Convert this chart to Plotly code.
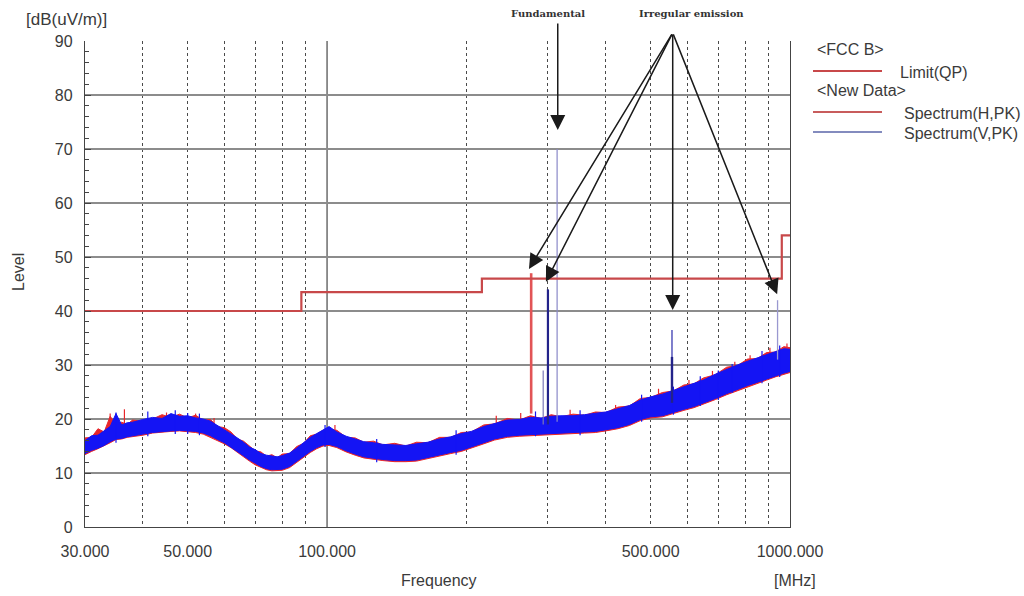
import math
import plotly.graph_objects as go

# ---------------- data ----------------
freq = [30, 31, 32, 33, 34, 35, 36, 37, 38, 40, 42, 44, 46, 48, 50, 52, 54, 56, 58, 60,
        62, 64, 66, 68, 70, 72, 74, 76, 78, 80, 83, 86, 89, 92, 95, 98, 101, 105, 110, 115,
        120, 126, 132, 140, 148, 156, 165, 175, 185, 195, 205, 218, 230, 245, 260, 275, 290, 305, 320, 340,
        360, 380, 400, 425, 450, 475, 500, 530, 560, 590, 620, 650, 690, 730, 770, 810, 850, 890, 930, 970,
        1000]

v_hi = [16.0, 16.9, 17.0, 17.8, 18.6, 21.0, 18.9, 19.3, 19.4, 19.9, 20.3, 20.1, 21.0, 20.5, 20.6, 20.2, 20.0, 19.6, 18.8, 18.1,
        17.3, 16.5, 15.7, 14.8, 14.3, 13.6, 13.3, 13.1, 13.0, 13.2, 13.7, 14.6, 15.7, 16.6, 17.3, 18.0, 18.6, 17.6, 16.8, 16.3,
        15.8, 15.6, 15.3, 15.2, 15.1, 15.4, 15.7, 16.3, 16.7, 17.3, 17.7, 18.6, 19.2, 19.8, 19.9, 20.3, 20.2, 20.5, 20.6, 20.6,
        20.8, 21.0, 21.3, 21.9, 22.5, 23.5, 24.1, 24.6, 25.3, 25.9, 26.6, 27.2, 28.3, 29.2, 30.0, 30.7, 31.3, 31.9, 32.5, 33.0,
        32.9]
v_lo = [13.6, 14.2, 14.6, 15.1, 15.8, 16.3, 16.4, 16.7, 16.9, 17.2, 17.5, 17.7, 17.8, 17.9, 17.8, 17.7, 17.4, 16.9, 16.2, 15.6,
        14.9, 14.0, 13.2, 12.4, 11.8, 11.2, 10.8, 10.6, 10.6, 10.7, 11.2, 12.1, 13.1, 14.0, 14.7, 15.2, 15.3, 14.9, 14.1, 13.5,
        13.0, 12.7, 12.5, 12.3, 12.3, 12.4, 12.8, 13.3, 13.8, 14.2, 14.8, 15.6, 16.3, 16.8, 17.0, 17.2, 17.3, 17.4, 17.5, 17.5,
        17.6, 17.7, 18.0, 18.4, 19.0, 19.9, 20.4, 20.6, 21.2, 21.8, 22.3, 22.9, 23.8, 24.7, 25.5, 26.2, 26.8, 27.4, 28.0, 28.5,
        28.8]
h_hi = [16.5, 16.6, 18.2, 17.6, 20.5, 19.0, 19.4, 19.0, 19.8, 19.6, 20.0, 20.8, 20.3, 20.9, 20.2, 20.7, 19.8, 19.9, 18.6, 18.4,
        17.6, 16.3, 15.9, 15.0, 14.1, 13.9, 13.1, 13.4, 12.8, 13.5, 13.6, 14.9, 15.5, 16.9, 17.2, 17.9, 18.1, 17.9, 16.6, 16.5,
        15.7, 15.9, 15.2, 15.5, 15.0, 15.7, 15.6, 16.6, 16.6, 17.5, 17.6, 18.9, 19.1, 20.1, 19.8, 20.6, 20.1, 20.8, 20.4, 20.9,
        20.7, 21.3, 21.2, 22.2, 22.4, 23.8, 24.0, 24.9, 25.2, 26.3, 26.5, 27.6, 28.2, 29.6, 29.9, 31.1, 31.2, 32.3, 32.4, 33.4,
        33.2]
h_lo = [13.4, 14.0, 14.5, 15.0, 15.6, 16.2, 16.3, 16.6, 16.8, 17.0, 17.4, 17.6, 17.7, 17.8, 17.6, 17.5, 17.2, 16.7, 16.0, 15.4,
        14.7, 13.8, 13.0, 12.2, 11.5, 11.0, 10.6, 10.4, 10.5, 10.5, 11.0, 11.9, 12.9, 13.8, 14.5, 15.0, 15.1, 14.7, 13.9, 13.3,
        12.8, 12.5, 12.3, 12.1, 12.1, 12.2, 12.6, 13.1, 13.6, 14.0, 14.6, 15.4, 16.1, 16.6, 16.8, 17.0, 17.1, 17.2, 17.3, 17.3,
        17.4, 17.5, 17.8, 18.2, 18.8, 19.7, 20.2, 20.4, 21.0, 21.6, 22.1, 22.7, 23.6, 24.5, 25.3, 26.0, 26.6, 27.2, 27.8, 28.3,
        28.6]

# small noise peaks poking out of the noise floor (frequency MHz, top level, bottom level)
h_noise_freq = [34, 36.5, 45, 52, 57, 104, 232, 262, 335, 420, 520, 605, 680, 760, 820, 905, 985]
h_noise_top = [21.0, 21.8, 21.2, 21.0, 20.2, 18.9, 20.6, 21.1, 21.7, 22.6, 25.6, 27.2, 28.9, 30.6, 31.8, 33.2, 34.0]
h_noise_bot = [16.0, 16.8, 17.8, 17.8, 17.0, 15.5, 16.5, 17.2, 17.7, 18.6, 20.8, 22.0, 23.5, 25.2, 26.5, 27.6, 28.5]

v_noise_freq = [35, 41, 47, 50, 53, 99, 128, 190, 282, 352, 478, 560, 640, 700, 750, 870, 950]
v_noise_top = [21.2, 21.4, 21.6, 21.1, 21.0, 18.9, 16.3, 17.9, 21.4, 21.6, 24.5, 26.0, 27.9, 29.0, 30.2, 32.6, 33.6]
v_noise_bot = [15.6, 16.8, 17.2, 17.2, 17.0, 14.8, 12.0, 13.4, 16.8, 17.0, 19.5, 20.8, 22.4, 23.5, 24.8, 26.6, 27.8]

# discrete emissions (frequency MHz, floor level, peak level)
h_spike_freq = [276]
h_spike_base = [21.0]
h_spike_peak = [47.0]

v_spike_freq = [293, 300, 314, 556, 556, 940]
v_spike_base = [19.0, 19.0, 19.5, 23.0, 23.0, 31.0]
v_spike_peak = [29.0, 44.0, 70.0, 36.5, 31.5, 42.0]

# FCC class B quasi-peak limit
limit_freq = [30, 88, 216, 960, 1000]
limit_level = [40, 43.5, 46, 54, 54]

x_tick_vals = [30, 50, 100, 500, 1000]
x_tick_text = ["30.000", "50.000", "100.000", "500.000", "1000.000"]
x_minor_vals = [40, 50, 60, 70, 80, 90, 200, 300, 400, 500, 600, 700, 800, 900]

# ---------------- styles ----------------
FONT = "Liberation Sans, Arial, sans-serif"
FS = 16
TXT = "#3a3a3a"
LIMIT_COL = "#c8484a"
H_COL = "#e8262a"
V_COL = "#1414f4"
v_spike_col = ["#7a78b8", "#23238a", "#8a88c8", "#3a3ab0", "#23238a", "#9a98d0"]
v_spike_w = [1.2, 2.2, 1.2, 1.3, 2.4, 1.3]

L, R, T, B = 85, 234, 41, 69
W, H = 1024, 596
PW, PH = W - L - R, H - T - B


def px(x):
    return (x - L) / PW


def py(y):
    return (H - B - y) / PH


def segs(fs, lo, hi):
    xs, ys = [], []
    for f, a, b in zip(fs, lo, hi):
        xs += [f, f, None]
        ys += [a, b, None]
    return xs, ys


fig = go.Figure()

# H band
fig.add_trace(go.Scatter(x=freq + freq[::-1], y=h_hi + h_lo[::-1], fill="toself",
                         fillcolor=H_COL, line=dict(color=H_COL, width=1),
                         mode="lines", hoverinfo="skip", showlegend=False))
hx, hy = segs(h_noise_freq, h_noise_bot, h_noise_top)
fig.add_trace(go.Scatter(x=hx, y=hy, mode="lines", line=dict(color=H_COL, width=1.2),
                         hoverinfo="skip", showlegend=False))
# V band
fig.add_trace(go.Scatter(x=freq + freq[::-1], y=v_hi + v_lo[::-1], fill="toself",
                         fillcolor=V_COL, line=dict(color=V_COL, width=1),
                         mode="lines", hoverinfo="skip", showlegend=False))
vx, vy = segs(v_noise_freq, v_noise_bot, v_noise_top)
fig.add_trace(go.Scatter(x=vx, y=vy, mode="lines", line=dict(color=V_COL, width=1.2),
                         hoverinfo="skip", showlegend=False))

# H spikes
for f, b0, p0 in zip(h_spike_freq, h_spike_base, h_spike_peak):
    fig.add_trace(go.Scatter(x=[f, f], y=[b0, p0], mode="lines",
                             line=dict(color="#e25456", width=2.6), showlegend=False, hoverinfo="skip"))
# V spikes
for i, (f, b0, p0) in enumerate(zip(v_spike_freq, v_spike_base, v_spike_peak)):
    fig.add_trace(go.Scatter(x=[f, f], y=[b0, p0], mode="lines",
                             line=dict(color=v_spike_col[i], width=v_spike_w[i]),
                             showlegend=False, hoverinfo="skip"))

# limit line
fig.add_trace(go.Scatter(x=limit_freq, y=limit_level, mode="lines", line_shape="hv",
                         line=dict(color=LIMIT_COL, width=2.2), showlegend=False, hoverinfo="skip"))

shapes = [
    dict(type="line", xref="x", yref="paper", x0=100, x1=100, y0=0, y1=1,
         line=dict(color="#555555", width=1.3), layer="below"),
    # legend samples
    dict(type="line", xref="paper", yref="paper", x0=px(813), x1=px(882), y0=py(71), y1=py(71),
         line=dict(color=LIMIT_COL, width=2.2)),
    dict(type="line", xref="paper", yref="paper", x0=px(813), x1=px(882), y0=py(112), y1=py(112),
         line=dict(color="#c85c5c", width=2.2)),
    dict(type="line", xref="paper", yref="paper", x0=px(813), x1=px(882), y0=py(132), y1=py(132),
         line=dict(color="#5a64a8", width=1.4)),
]

ann = []


def txt(text, x, y, size=FS, xanchor="center", yanchor="middle", font=FONT, angle=0, color=TXT):
    ann.append(dict(text=text, x=px(x), y=py(y), xref="paper", yref="paper", showarrow=False,
                    xanchor=xanchor, yanchor=yanchor, textangle=angle,
                    font=dict(family=font, size=size, color=color)))


txt("[dB(uV/m)]", 66, 19, size=17)
txt("Level", 18, 272, angle=-90)
txt("Frequency", 439, 580)
txt("[MHz]", 772, 580, xanchor="left")
txt("&lt;FCC B&gt;", 815, 50, xanchor="left")
txt("Limit(QP)", 898, 72, xanchor="left")
txt("&lt;New Data&gt;", 815, 90, xanchor="left")
txt("Spectrum(H,PK)", 902, 113, xanchor="left")
txt("Spectrum(V,PK)", 902, 133, xanchor="left")
SERIF = "DejaVu Serif, Liberation Serif, serif"
txt("<b>Fundamental</b>", 548, 14, size=10, font=SERIF, color="#333333")
txt("<b>Irregular emission</b>", 691, 14, size=10, font=SERIF, color="#333333")

# arrows (tip freq, tip level) from a common tail
lg = math.log10
arrows = [
    ((315, 73.5), (315, 93.5)),
    ((273, 47.8), (558, 91.5)),
    ((297, 45.4), (558, 91.5)),
    ((558, 40.2), (558, 91.5)),
    ((938, 43.1), (558, 91.5)),
]
for (tf, tl), (sf, sl) in arrows:
    ann.append(dict(x=lg(tf), y=tl, xref="x", yref="y", ax=lg(sf), ay=sl, axref="x", ayref="y",
                    text="", showarrow=True, arrowhead=2, arrowsize=2, arrowwidth=1.5,
                    arrowcolor="#1a1a1a", standoff=0, startstandoff=0))

fig.update_layout(
    width=W, height=H, margin=dict(l=L, r=R, t=T, b=B),
    paper_bgcolor="white", plot_bgcolor="white",
    shapes=shapes, annotations=ann, showlegend=False,
    font=dict(family=FONT, size=FS, color=TXT),
    xaxis=dict(type="log", range=[lg(30), lg(1000)], tickmode="array",
               tickvals=x_tick_vals, ticktext=x_tick_text, showgrid=False, ticks="",
               showline=True, linecolor="#444444", linewidth=1.3, zeroline=False,
               tickfont=dict(family=FONT, size=FS, color=TXT), ticklabelstandoff=10,
               minor=dict(tickmode="array", tickvals=x_minor_vals, showgrid=True,
                          griddash="3px,3px", gridcolor="#4a4a4a", gridwidth=1, ticks="")),
    yaxis=dict(range=[0, 90], dtick=10, showgrid=True, gridcolor="#8c8c8c", gridwidth=1.5,
               showline=True, linecolor="#444444", linewidth=1.3, mirror=True, zeroline=False,
               ticks="inside", ticklen=6, tickcolor="#444444",
               tickfont=dict(family=FONT, size=FS, color=TXT), ticklabelstandoff=8,
               minor=dict(dtick=2, ticks="inside", ticklen=4, tickcolor="#444444", showgrid=False)),
)

fig.write_html("out.html", include_plotlyjs=True, config={"displayModeBar": False},
               post_script="document.body.style.margin='0';document.body.style.overflow='hidden';")
